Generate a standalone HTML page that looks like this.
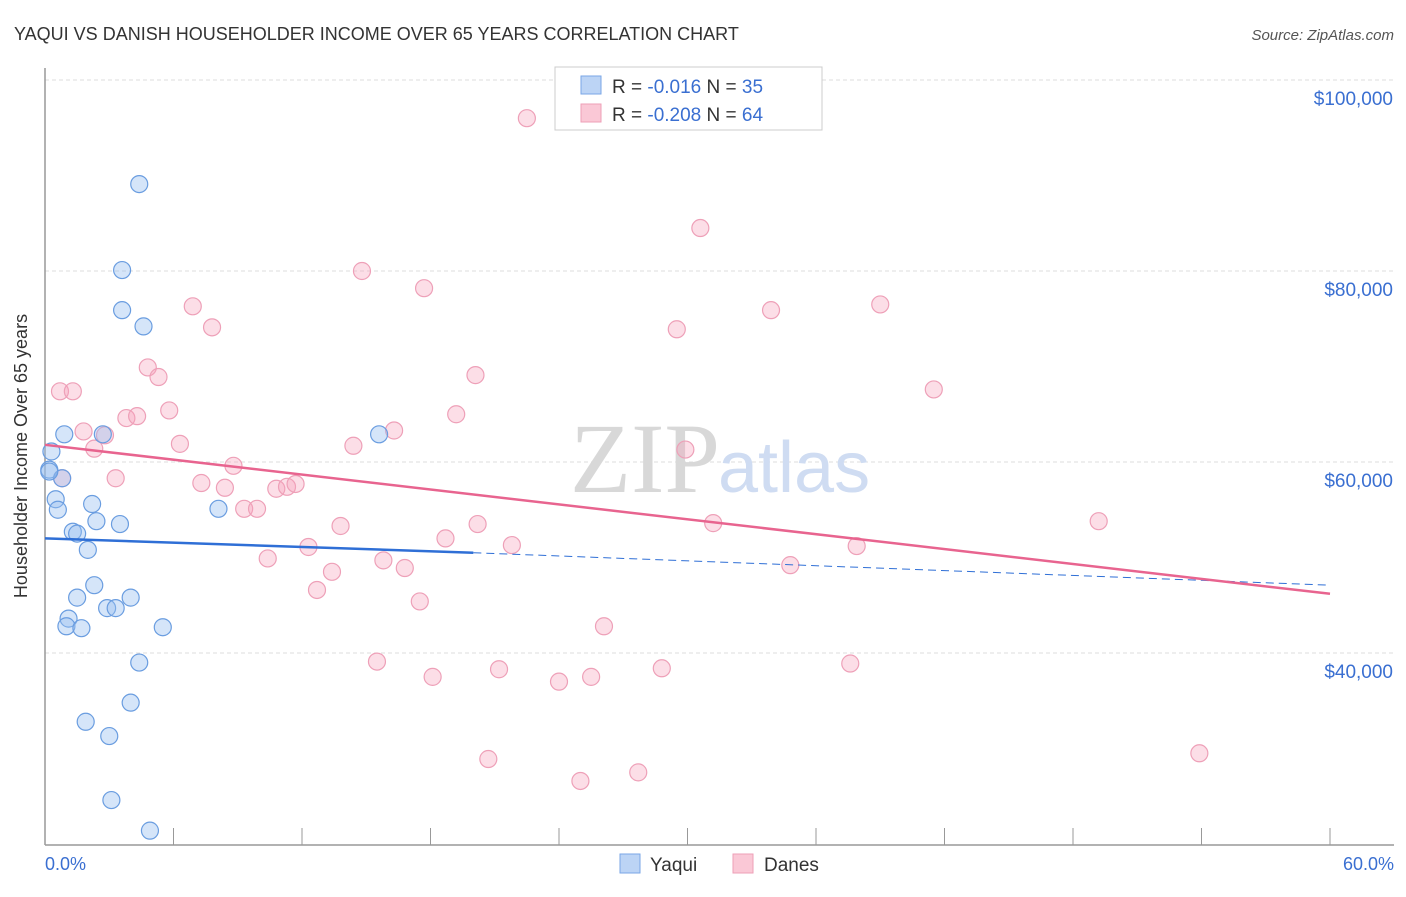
<!DOCTYPE html>
<html><head><meta charset="utf-8"><style>
body{margin:0;background:#fff;font-family:"Liberation Sans",sans-serif}
</style></head><body>
<svg width="1406" height="892" xmlns="http://www.w3.org/2000/svg">
<text x="14" y="40" font-size="18" fill="#333">YAQUI VS DANISH HOUSEHOLDER INCOME OVER 65 YEARS CORRELATION CHART</text>
<text x="1394" y="40" font-size="15" fill="#555" text-anchor="end" font-style="italic">Source: ZipAtlas.com</text>
<g id="grid"></g>
<line x1="45" y1="68" x2="45" y2="845" stroke="#999" stroke-width="1.5"/>
<line x1="45" y1="845" x2="1394" y2="845" stroke="#999" stroke-width="1.5"/>
<text x="27" y="456" font-size="18" fill="#333" text-anchor="middle" transform="rotate(-90 27 456)">Householder Income Over 65 years</text>
<text x="45" y="870" font-size="18" fill="#3a6fd1">0.0%</text>
<text x="1394" y="870" font-size="18" fill="#3a6fd1" text-anchor="end">60.0%</text>
<text x="720" y="492" font-size="100" fill="#d8d8d8" text-anchor="end" font-family="Liberation Serif,serif">ZIP</text>
<text x="718" y="492" font-size="72" fill="#cfdcf2">atlas</text>
<g id="pts"></g>
<g id="lines"></g>
<rect x="555" y="67" width="267" height="63" fill="#fff" stroke="#ccc"/>
<rect x="581" y="76" width="20" height="18" fill="#bcd4f5" stroke="#7aa6e6"/>
<rect x="581" y="104" width="20" height="18" fill="#fac8d6" stroke="#ee9fb7"/>
<text x="612" y="93" font-size="19" fill="#333">R = <tspan fill="#3a6fd1">-0.016</tspan>    N = <tspan fill="#3a6fd1">35</tspan></text>
<text x="612" y="121" font-size="19" fill="#333">R = <tspan fill="#3a6fd1">-0.208</tspan>    N = <tspan fill="#3a6fd1">64</tspan></text>
<rect x="620" y="854" width="20" height="19" fill="#bcd4f5" stroke="#7aa6e6"/>
<text x="650" y="871" font-size="19" fill="#333">Yaqui</text>
<rect x="733" y="854" width="20" height="19" fill="#fac8d6" stroke="#ee9fb7"/>
<text x="764" y="871" font-size="19" fill="#333">Danes</text>
</svg>
<script>
const yTicks=[40000,60000,80000,100000];
const yTickLabels=["$40,000","$60,000","$80,000","$100,000"];
const xTicks=[0,6,12,18,24,30,36,42,48,54,60];
const yaquiX=[4.4,3.6,3.6,4.6,0.3,0.9,2.7,0.2,0.8,0.5,0.6,2.2,2.4,3.5,1.3,1.5,2.0,2.3,1.5,4.0,2.9,3.3,1.1,1.0,1.7,5.5,8.1,15.6,4.4,1.9,4.0,3.0,3.1,4.9,0.2];
const yaquiY=[89100,80100,75900,74200,61100,62900,62900,59200,58300,56100,55000,55600,53800,53500,52700,52500,50800,47100,45800,45800,44700,44700,43600,42800,42600,42700,55100,62900,39000,32800,34800,31300,24600,21400,59000];
const danesX=[22.5,27.3,30.6,14.8,17.7,6.9,7.8,39.0,33.9,29.5,0.7,1.3,4.8,5.3,20.1,41.5,5.8,3.8,4.3,19.2,1.8,2.8,2.3,6.3,16.3,14.4,29.9,8.8,0.8,3.3,7.3,8.4,10.8,11.3,11.7,9.3,9.9,13.8,20.2,31.2,49.2,18.7,21.8,37.9,12.3,10.4,15.8,16.8,34.8,13.4,12.7,17.5,26.1,15.5,18.1,21.2,24.0,25.5,28.8,37.6,20.7,25.0,27.7,53.9];
const danesY=[96000,96000,84500,80000,78200,76300,74100,76500,75900,73900,67400,67400,69900,68900,69100,67600,65400,64600,64800,65000,63200,62800,61400,61900,63300,61700,61300,59600,58300,58300,57800,57300,57200,57400,57700,55100,55100,53300,53500,53600,53800,52000,51300,51200,51100,49900,49700,48900,49200,48500,46600,45400,42800,39100,37500,38300,37000,37500,38400,38900,28900,26600,27500,29500];
const trendYaqui=[52000,50500,47100];
const trendDanes=[61800,46200];
const NS="http://www.w3.org/2000/svg";
const xs=v=>45+v/60*1285;
const ys=v=>653-(v-40000)*191/20000;
function mk(t,a,p){const e=document.createElementNS(NS,t);for(const k in a)e.setAttribute(k,a[k]);p.appendChild(e);return e;}
const grid=document.getElementById('grid');
yTicks.forEach((v,i)=>{
 const l=mk('line',{x1:45,x2:1394,y1:ys(v),y2:ys(v),stroke:'#ddd','stroke-dasharray':'4,3'},grid);
 
 
 const t=mk('text',{x:1393,y:ys(v)+25,'font-size':19,fill:'#3a6fd1','text-anchor':'end'},grid);
 t.textContent=yTickLabels[i];
 
 
});
xTicks.forEach(v=>{
 const l=mk('line',{x1:xs(v),x2:xs(v),y1:828,y2:845,stroke:'#999'},grid);
 
 
});
const pts=document.getElementById('pts');
danesX.forEach((x,i)=>{
 const c=mk('circle',{cx:xs(x),cy:ys(danesY[i]),r:8.5,fill:'rgba(245,160,185,0.35)',stroke:'#eea0b8','stroke-width':1.2},pts);
 
 
});
yaquiX.forEach((x,i)=>{
 const c=mk('circle',{cx:xs(x),cy:ys(yaquiY[i]),r:8.5,fill:'rgba(150,190,240,0.4)',stroke:'#6a9de0','stroke-width':1.2},pts);
 
 
});
const lines=document.getElementById('lines');
let l1=mk('line',{x1:xs(0),y1:ys(trendYaqui[0]),x2:xs(20),y2:ys(trendYaqui[1]),stroke:'#2f6fd6','stroke-width':2.5},lines);


let l2=mk('line',{x1:xs(20),y1:ys(trendYaqui[1]),x2:xs(60),y2:ys(trendYaqui[2]),stroke:'#2f6fd6','stroke-width':1,'stroke-dasharray':'8,5'},lines);


let l3=mk('line',{x1:xs(0),y1:ys(trendDanes[0]),x2:xs(60),y2:ys(trendDanes[1]),stroke:'#e8648f','stroke-width':2.5},lines);


</script>
</body></html>
